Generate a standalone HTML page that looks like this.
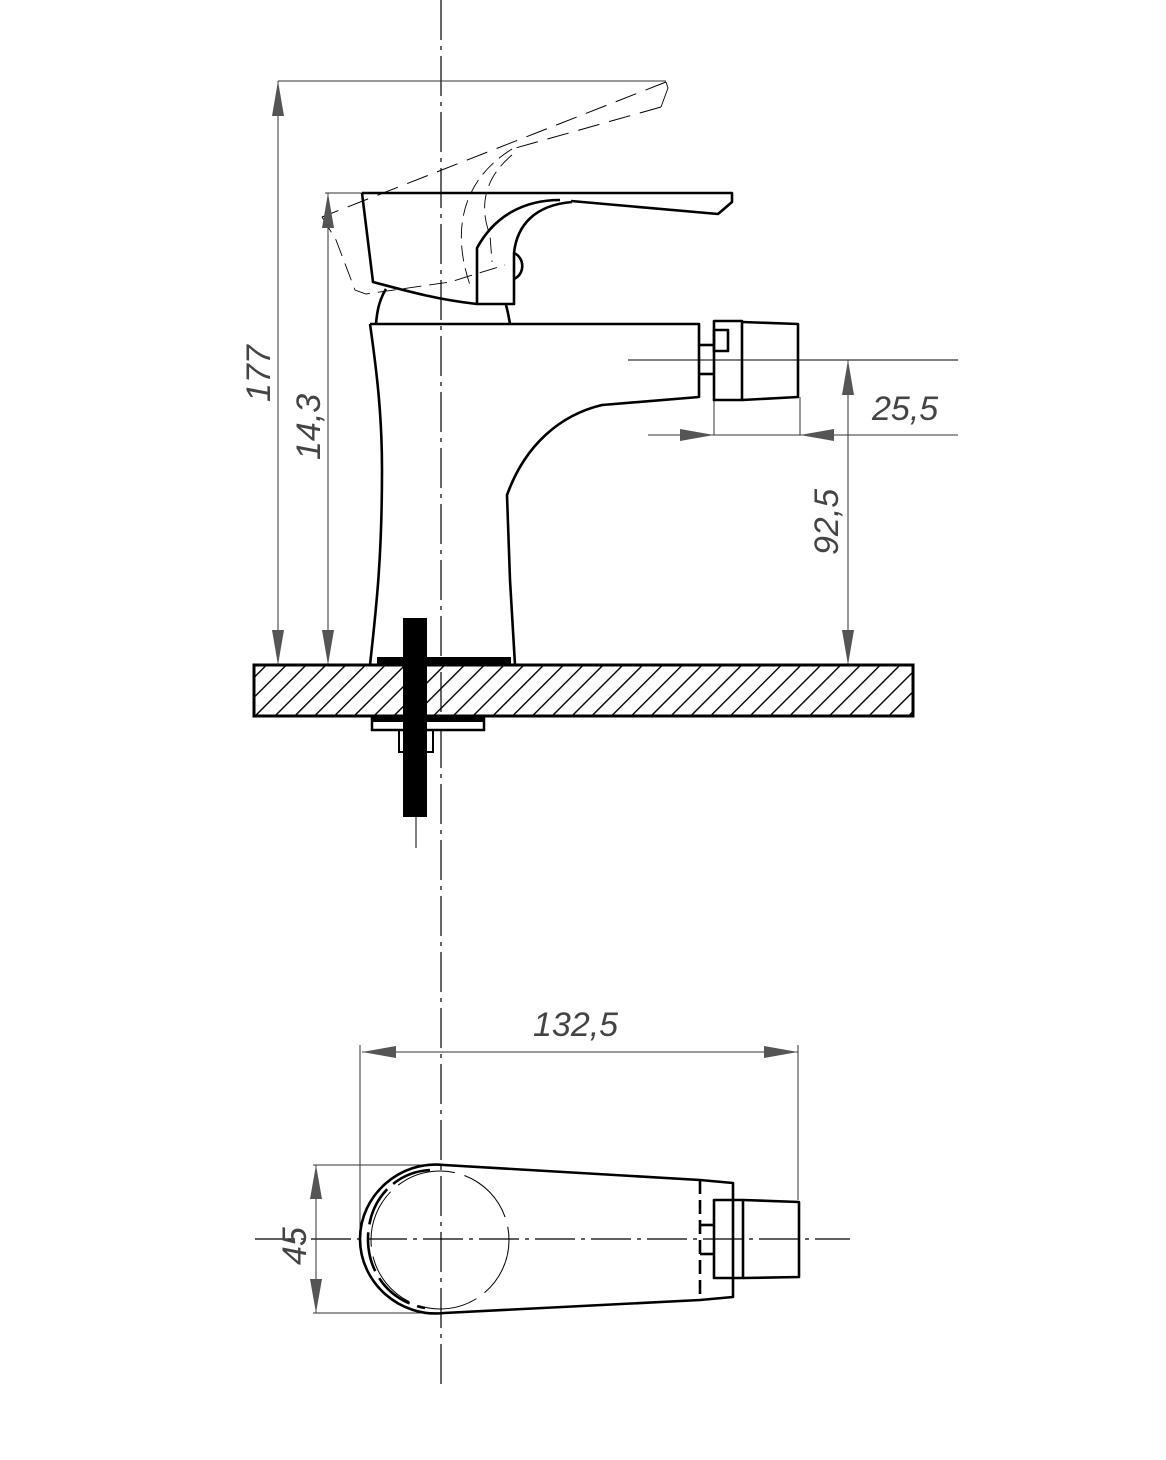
<!DOCTYPE html>
<html><head><meta charset="utf-8"><style>
html,body{margin:0;padding:0;background:#fff;}
svg{display:block;}
text{font-family:"Liberation Sans",sans-serif;font-style:italic;fill:#444;}
</style></head><body>
<svg width="1166" height="1460" viewBox="0 0 1166 1460" xmlns="http://www.w3.org/2000/svg">
<defs>
<pattern id="h" patternUnits="userSpaceOnUse" width="14" height="14" patternTransform="rotate(45)">
<line x1="0" y1="0" x2="0" y2="14" stroke="#000" stroke-width="2.8"/>
</pattern>
</defs>
<g fill="none" stroke="#000">
<line x1="441" y1="0" x2="441" y2="1390" stroke-width="1.2" stroke-dasharray="40,6,4,6"/>
<line x1="628" y1="360" x2="958" y2="360" stroke-width="1"/>
<line x1="255" y1="1239" x2="850" y2="1239" stroke-width="1.2" stroke-dasharray="40,6,4,6"/>

<g stroke="#333" stroke-width="1">
<line x1="278" y1="81" x2="666" y2="81"/>
<line x1="278" y1="81" x2="278" y2="665"/>
<line x1="325" y1="193" x2="362" y2="193"/>
<line x1="328" y1="193" x2="328" y2="665"/>
<line x1="848" y1="360" x2="848" y2="665"/>
<line x1="648" y1="435" x2="958" y2="435"/>
<line x1="714" y1="400" x2="714" y2="435"/>
<line x1="800" y1="397" x2="800" y2="435"/>
<line x1="360" y1="1045" x2="360" y2="1240"/>
<line x1="798" y1="1045" x2="798" y2="1200"/>
<line x1="362" y1="1052" x2="798" y2="1052"/>
<line x1="313" y1="1165" x2="440" y2="1165"/>
<line x1="313" y1="1313" x2="440" y2="1313"/>
<line x1="316" y1="1165" x2="316" y2="1313"/>
</g>

<g stroke="#000" stroke-width="1" stroke-dasharray="22,10">
<path d="M666,82 L322,217"/>
<path d="M661,107 L512,149"/>
</g>
<g stroke="#000" stroke-width="0.9">
<path d="M666,82 L668,88 L661,107"/>
<path d="M322,217 L336,240 L355,290 L366,294 L450,282 L505,265" stroke-dasharray="18,8"/>
<path d="M512,149 C470,175 448,220 470,285" stroke-dasharray="16,7"/>
<path d="M512,155 C482,180 480,210 490,235 L492,262" stroke-dasharray="16,7"/>
</g>

<g stroke-width="2.6" stroke-linejoin="round">
<path d="M362,193 L732,193 L732,202 L718,214 L571,201"/>
<path d="M362,193 L373,282 C410,292 440,300 477,304 L514,304 L514,253"/>
<path d="M477,304 L477,248 C495,215 525,200 560,200"/>
<path d="M514,253 C517,225 535,205 572,202"/>
<path d="M514,253 C525,258 525,274 514,279"/>
<path d="M386,289 C379,300 377,312 376,324"/>
<path d="M506,305 C508,312 509,318 510,324"/>
<path d="M370,324 L699,324 L699,397 L602,405 C560,415 525,445 507,495 L510,580 L515,665"/>
<path d="M370,324 C378,380 382,420 382,470 C382,560 376,610 370,665"/>
<path d="M714,321 L742,321 L742,400 L714,400 Z"/>
<path d="M742,322 L798,324 L798,397 L742,400"/>
<rect x="714" y="330" width="14" height="21"/>
<line x1="699" y1="345" x2="714" y2="345"/>
<line x1="699" y1="374" x2="714" y2="374"/>
</g>

<rect x="254" y="665" width="659" height="51" fill="url(#h)" stroke-width="3"/>
<rect x="377" y="657" width="134" height="8" fill="#000" stroke="none"/>
<rect x="372" y="716" width="112" height="14" fill="#fff" stroke-width="2.5"/>
<rect x="372" y="716" width="112" height="6" fill="#000" stroke="none"/>
<path d="M399,730 L399,752 L433,752 L433,730" stroke-width="2"/>
<rect x="403" y="618" width="24" height="199" fill="#000" stroke="none"/>
<line x1="416" y1="817" x2="416" y2="848" stroke-width="1"/>

<g stroke-width="2.6" stroke-linejoin="round">
<path d="M444,1165 C400,1160 360,1195 360,1239 C360,1283 400,1318 444,1313"/>
<path d="M444,1165 L700,1180 L733,1183 L733,1297 L700,1300 L444,1313"/>
<rect x="714" y="1200" width="29" height="78"/>
<path d="M743,1200 L799,1202 L799,1277 L743,1278"/>
<line x1="700" y1="1225" x2="714" y2="1225"/>
<line x1="700" y1="1254" x2="714" y2="1254"/>
<path d="M700,1180 L700,1300" stroke-dasharray="14,6"/>
<path d="M430,1170 C395,1172 368,1200 368,1239 C368,1275 392,1302 425,1308" stroke-dasharray="40,8"/>
</g>
<circle cx="440" cy="1240" r="69" stroke-width="1" stroke-dasharray="60,10"/>
</g>

<g fill="#555">
<polygon points="278,81 272,116 284,116"/>
<polygon points="278,665 272,630 284,630"/>
<polygon points="328,193 322,228 334,228"/>
<polygon points="328,665 322,630 334,630"/>
<polygon points="848,360 842,395 854,395"/>
<polygon points="848,665 842,630 854,630"/>
<polygon points="714,435 680,429 680,441"/>
<polygon points="800,435 834,429 834,441"/>
<polygon points="362,1052 396,1046 396,1058"/>
<polygon points="798,1052 764,1046 764,1058"/>
<polygon points="316,1165 310,1199 322,1199"/>
<polygon points="316,1313 310,1279 322,1279"/>
</g>

<text x="0" y="0" font-size="34" transform="translate(270,402) rotate(-90)">177</text>
<text x="0" y="0" font-size="34" transform="translate(320,460) rotate(-90)">14,3</text>
<text x="0" y="0" font-size="34" transform="translate(838,555) rotate(-90)">92,5</text>
<text x="872" y="420" font-size="34">25,5</text>
<text x="533" y="1036" font-size="34">132,5</text>
<text x="0" y="0" font-size="34" transform="translate(306,1265) rotate(-90)">45</text>
</svg>
</body></html>
